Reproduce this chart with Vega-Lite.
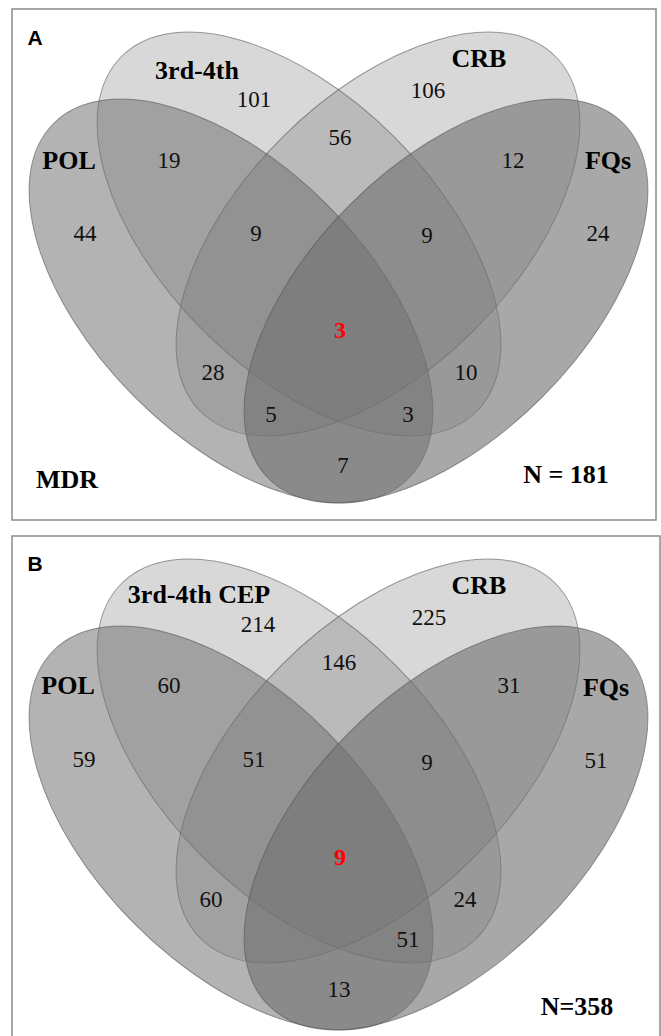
{
  "$schema": "https://vega.github.io/schema/vega-lite/v6.json",
  "padding": {"left": 11, "top": 8, "right": 0, "bottom": 0},
  "spacing": 14,
  "background": "white",
  "config": {"view": {"stroke": "#8a8a8a", "strokeWidth": 1.5}},
  "datasets": {
    "ellipses": [
      {"panel": "A", "set": "3rd-4th", "cx": 287, "cy": 225},
      {"panel": "A", "set": "CRB", "cx": 366, "cy": 225},
      {"panel": "A", "set": "POL", "cx": 219, "cy": 292},
      {"panel": "A", "set": "FQs", "cx": 434, "cy": 292},
      {"panel": "B", "set": "3rd-4th CEP", "cx": 287, "cy": 225},
      {"panel": "B", "set": "CRB", "cx": 366, "cy": 225},
      {"panel": "B", "set": "POL", "cx": 219, "cy": 292},
      {"panel": "B", "set": "FQs", "cx": 434, "cy": 292}
    ],
    "labels": [
      {"panel": "A", "role": "letter", "x": 23, "y": 30, "text": "A"},
      {"panel": "A", "role": "set", "x": 185, "y": 62, "text": "3rd-4th"},
      {"panel": "A", "role": "set", "x": 467, "y": 50, "text": "CRB"},
      {"panel": "A", "role": "set", "x": 57, "y": 152, "text": "POL"},
      {"panel": "A", "role": "set", "x": 596, "y": 152, "text": "FQs"},
      {"panel": "A", "role": "set", "x": 55, "y": 471, "text": "MDR"},
      {"panel": "A", "role": "set", "x": 554, "y": 466, "text": "N = 181"},
      {"panel": "A", "role": "count", "x": 242, "y": 91, "text": "101"},
      {"panel": "A", "role": "count", "x": 416, "y": 82, "text": "106"},
      {"panel": "A", "role": "count", "x": 328, "y": 129, "text": "56"},
      {"panel": "A", "role": "count", "x": 157, "y": 152, "text": "19"},
      {"panel": "A", "role": "count", "x": 501, "y": 152, "text": "12"},
      {"panel": "A", "role": "count", "x": 73, "y": 225, "text": "44"},
      {"panel": "A", "role": "count", "x": 244, "y": 225, "text": "9"},
      {"panel": "A", "role": "count", "x": 415, "y": 227, "text": "9"},
      {"panel": "A", "role": "count", "x": 586, "y": 225, "text": "24"},
      {"panel": "A", "role": "core", "x": 328, "y": 322, "text": "3"},
      {"panel": "A", "role": "count", "x": 201, "y": 364, "text": "28"},
      {"panel": "A", "role": "count", "x": 454, "y": 364, "text": "10"},
      {"panel": "A", "role": "count", "x": 259, "y": 406, "text": "5"},
      {"panel": "A", "role": "count", "x": 396, "y": 406, "text": "3"},
      {"panel": "A", "role": "count", "x": 331, "y": 457, "text": "7"},
      {"panel": "B", "role": "letter", "x": 23, "y": 29, "text": "B"},
      {"panel": "B", "role": "set", "x": 187, "y": 59, "text": "3rd-4th CEP"},
      {"panel": "B", "role": "set", "x": 467, "y": 50, "text": "CRB"},
      {"panel": "B", "role": "set", "x": 56, "y": 150, "text": "POL"},
      {"panel": "B", "role": "set", "x": 594, "y": 152, "text": "FQs"},
      {"panel": "B", "role": "set", "x": 565, "y": 471, "text": "N=358"},
      {"panel": "B", "role": "count", "x": 246, "y": 89, "text": "214"},
      {"panel": "B", "role": "count", "x": 417, "y": 82, "text": "225"},
      {"panel": "B", "role": "count", "x": 327, "y": 127, "text": "146"},
      {"panel": "B", "role": "count", "x": 157, "y": 150, "text": "60"},
      {"panel": "B", "role": "count", "x": 497, "y": 150, "text": "31"},
      {"panel": "B", "role": "count", "x": 72, "y": 224, "text": "59"},
      {"panel": "B", "role": "count", "x": 242, "y": 224, "text": "51"},
      {"panel": "B", "role": "count", "x": 415, "y": 227, "text": "9"},
      {"panel": "B", "role": "count", "x": 584, "y": 225, "text": "51"},
      {"panel": "B", "role": "core", "x": 328, "y": 322, "text": "9"},
      {"panel": "B", "role": "count", "x": 199, "y": 364, "text": "60"},
      {"panel": "B", "role": "count", "x": 453, "y": 364, "text": "24"},
      {"panel": "B", "role": "count", "x": 396, "y": 404, "text": "51"},
      {"panel": "B", "role": "count", "x": 327, "y": 454, "text": "13"}
    ]
  },
  "vconcat": [
    {
      "width": 644,
      "height": 511,
      "layer": [
        {
          "data": {"name": "ellipses"},
          "transform": [{"filter": "datum.panel === 'A' && datum.set === '3rd-4th'"}],
          "mark": {"type": "point", "shape": "M1,0C1,0.2993,0.5523,0.542,0,0.542C-0.5523,0.542,-1,0.2993,-1,0C-1,-0.2993,-0.5523,-0.542,0,-0.542C0.5523,-0.542,1,-0.2993,1,0Z", "size": 252004, "angle": 45, "filled": true, "opacity": 1, "fill": "#606060", "fillOpacity": 0.245, "stroke": "#505050", "strokeOpacity": 0.55, "strokeWidth": 1},
          "encoding": {
            "x": {"field": "cx", "type": "quantitative", "scale": {"domain": [0, 644], "nice": false, "zero": false}, "axis": null},
            "y": {"field": "cy", "type": "quantitative", "scale": {"domain": [0, 511], "nice": false, "zero": false, "reverse": true}, "axis": null}
          }
        },
        {
          "data": {"name": "ellipses"},
          "transform": [{"filter": "datum.panel === 'A' && datum.set === 'CRB'"}],
          "mark": {"type": "point", "shape": "M1,0C1,0.2993,0.5523,0.542,0,0.542C-0.5523,0.542,-1,0.2993,-1,0C-1,-0.2993,-0.5523,-0.542,0,-0.542C0.5523,-0.542,1,-0.2993,1,0Z", "size": 252004, "angle": 315, "filled": true, "opacity": 1, "fill": "#606060", "fillOpacity": 0.245, "stroke": "#505050", "strokeOpacity": 0.55, "strokeWidth": 1},
          "encoding": {
            "x": {"field": "cx", "type": "quantitative", "scale": {"domain": [0, 644], "nice": false, "zero": false}, "axis": null},
            "y": {"field": "cy", "type": "quantitative", "scale": {"domain": [0, 511], "nice": false, "zero": false, "reverse": true}, "axis": null}
          }
        },
        {
          "data": {"name": "ellipses"},
          "transform": [{"filter": "datum.panel === 'A' && datum.set === 'POL'"}],
          "mark": {"type": "point", "shape": "M1,0C1,0.2993,0.5523,0.542,0,0.542C-0.5523,0.542,-1,0.2993,-1,0C-1,-0.2993,-0.5523,-0.542,0,-0.542C0.5523,-0.542,1,-0.2993,1,0Z", "size": 252004, "angle": 45, "filled": true, "opacity": 1, "fill": "#707070", "fillOpacity": 0.53, "stroke": "#505050", "strokeOpacity": 0.55, "strokeWidth": 1},
          "encoding": {
            "x": {"field": "cx", "type": "quantitative", "scale": {"domain": [0, 644], "nice": false, "zero": false}, "axis": null},
            "y": {"field": "cy", "type": "quantitative", "scale": {"domain": [0, 511], "nice": false, "zero": false, "reverse": true}, "axis": null}
          }
        },
        {
          "data": {"name": "ellipses"},
          "transform": [{"filter": "datum.panel === 'A' && datum.set === 'FQs'"}],
          "mark": {"type": "point", "shape": "M1,0C1,0.2993,0.5523,0.542,0,0.542C-0.5523,0.542,-1,0.2993,-1,0C-1,-0.2993,-0.5523,-0.542,0,-0.542C0.5523,-0.542,1,-0.2993,1,0Z", "size": 252004, "angle": 315, "filled": true, "opacity": 1, "fill": "#707070", "fillOpacity": 0.61, "stroke": "#505050", "strokeOpacity": 0.55, "strokeWidth": 1},
          "encoding": {
            "x": {"field": "cx", "type": "quantitative", "scale": {"domain": [0, 644], "nice": false, "zero": false}, "axis": null},
            "y": {"field": "cy", "type": "quantitative", "scale": {"domain": [0, 511], "nice": false, "zero": false, "reverse": true}, "axis": null}
          }
        },
        {
          "data": {"name": "labels"},
          "transform": [{"filter": "datum.panel === 'A' && datum.role === 'count'"}],
          "mark": {"type": "text", "font": "Liberation Serif", "fontSize": 23, "color": "#111111", "align": "center", "baseline": "middle"},
          "encoding": {
            "x": {"field": "x", "type": "quantitative"},
            "y": {"field": "y", "type": "quantitative"},
            "text": {"field": "text"}
          }
        },
        {
          "data": {"name": "labels"},
          "transform": [{"filter": "datum.panel === 'A' && datum.role === 'set'"}],
          "mark": {"type": "text", "font": "Liberation Serif", "fontSize": 26, "fontWeight": "bold", "color": "#000000", "align": "center", "baseline": "middle"},
          "encoding": {
            "x": {"field": "x", "type": "quantitative"},
            "y": {"field": "y", "type": "quantitative"},
            "text": {"field": "text"}
          }
        },
        {
          "data": {"name": "labels"},
          "transform": [{"filter": "datum.panel === 'A' && datum.role === 'core'"}],
          "mark": {"type": "text", "font": "Liberation Serif", "fontSize": 24, "fontWeight": "bold", "color": "#ff0000", "align": "center", "baseline": "middle"},
          "encoding": {
            "x": {"field": "x", "type": "quantitative"},
            "y": {"field": "y", "type": "quantitative"},
            "text": {"field": "text"}
          }
        },
        {
          "data": {"name": "labels"},
          "transform": [{"filter": "datum.panel === 'A' && datum.role === 'letter'"}],
          "mark": {"type": "text", "font": "Liberation Sans", "fontSize": 21, "fontWeight": "bold", "color": "#000000", "align": "center", "baseline": "middle"},
          "encoding": {
            "x": {"field": "x", "type": "quantitative"},
            "y": {"field": "y", "type": "quantitative"},
            "text": {"field": "text"}
          }
        }
      ]
    },
    {
      "width": 648,
      "height": 502,
      "layer": [
        {
          "data": {"name": "ellipses"},
          "transform": [{"filter": "datum.panel === 'B' && datum.set === '3rd-4th CEP'"}],
          "mark": {"type": "point", "shape": "M1,0C1,0.2993,0.5523,0.542,0,0.542C-0.5523,0.542,-1,0.2993,-1,0C-1,-0.2993,-0.5523,-0.542,0,-0.542C0.5523,-0.542,1,-0.2993,1,0Z", "size": 252004, "angle": 45, "filled": true, "opacity": 1, "fill": "#606060", "fillOpacity": 0.245, "stroke": "#505050", "strokeOpacity": 0.55, "strokeWidth": 1},
          "encoding": {
            "x": {"field": "cx", "type": "quantitative", "scale": {"domain": [0, 648], "nice": false, "zero": false}, "axis": null},
            "y": {"field": "cy", "type": "quantitative", "scale": {"domain": [0, 502], "nice": false, "zero": false, "reverse": true}, "axis": null}
          }
        },
        {
          "data": {"name": "ellipses"},
          "transform": [{"filter": "datum.panel === 'B' && datum.set === 'CRB'"}],
          "mark": {"type": "point", "shape": "M1,0C1,0.2993,0.5523,0.542,0,0.542C-0.5523,0.542,-1,0.2993,-1,0C-1,-0.2993,-0.5523,-0.542,0,-0.542C0.5523,-0.542,1,-0.2993,1,0Z", "size": 252004, "angle": 315, "filled": true, "opacity": 1, "fill": "#606060", "fillOpacity": 0.245, "stroke": "#505050", "strokeOpacity": 0.55, "strokeWidth": 1},
          "encoding": {
            "x": {"field": "cx", "type": "quantitative", "scale": {"domain": [0, 648], "nice": false, "zero": false}, "axis": null},
            "y": {"field": "cy", "type": "quantitative", "scale": {"domain": [0, 502], "nice": false, "zero": false, "reverse": true}, "axis": null}
          }
        },
        {
          "data": {"name": "ellipses"},
          "transform": [{"filter": "datum.panel === 'B' && datum.set === 'POL'"}],
          "mark": {"type": "point", "shape": "M1,0C1,0.2993,0.5523,0.542,0,0.542C-0.5523,0.542,-1,0.2993,-1,0C-1,-0.2993,-0.5523,-0.542,0,-0.542C0.5523,-0.542,1,-0.2993,1,0Z", "size": 252004, "angle": 45, "filled": true, "opacity": 1, "fill": "#707070", "fillOpacity": 0.53, "stroke": "#505050", "strokeOpacity": 0.55, "strokeWidth": 1},
          "encoding": {
            "x": {"field": "cx", "type": "quantitative", "scale": {"domain": [0, 648], "nice": false, "zero": false}, "axis": null},
            "y": {"field": "cy", "type": "quantitative", "scale": {"domain": [0, 502], "nice": false, "zero": false, "reverse": true}, "axis": null}
          }
        },
        {
          "data": {"name": "ellipses"},
          "transform": [{"filter": "datum.panel === 'B' && datum.set === 'FQs'"}],
          "mark": {"type": "point", "shape": "M1,0C1,0.2993,0.5523,0.542,0,0.542C-0.5523,0.542,-1,0.2993,-1,0C-1,-0.2993,-0.5523,-0.542,0,-0.542C0.5523,-0.542,1,-0.2993,1,0Z", "size": 252004, "angle": 315, "filled": true, "opacity": 1, "fill": "#707070", "fillOpacity": 0.61, "stroke": "#505050", "strokeOpacity": 0.55, "strokeWidth": 1},
          "encoding": {
            "x": {"field": "cx", "type": "quantitative", "scale": {"domain": [0, 648], "nice": false, "zero": false}, "axis": null},
            "y": {"field": "cy", "type": "quantitative", "scale": {"domain": [0, 502], "nice": false, "zero": false, "reverse": true}, "axis": null}
          }
        },
        {
          "data": {"name": "labels"},
          "transform": [{"filter": "datum.panel === 'B' && datum.role === 'count'"}],
          "mark": {"type": "text", "font": "Liberation Serif", "fontSize": 23, "color": "#111111", "align": "center", "baseline": "middle"},
          "encoding": {
            "x": {"field": "x", "type": "quantitative"},
            "y": {"field": "y", "type": "quantitative"},
            "text": {"field": "text"}
          }
        },
        {
          "data": {"name": "labels"},
          "transform": [{"filter": "datum.panel === 'B' && datum.role === 'set'"}],
          "mark": {"type": "text", "font": "Liberation Serif", "fontSize": 26, "fontWeight": "bold", "color": "#000000", "align": "center", "baseline": "middle"},
          "encoding": {
            "x": {"field": "x", "type": "quantitative"},
            "y": {"field": "y", "type": "quantitative"},
            "text": {"field": "text"}
          }
        },
        {
          "data": {"name": "labels"},
          "transform": [{"filter": "datum.panel === 'B' && datum.role === 'core'"}],
          "mark": {"type": "text", "font": "Liberation Serif", "fontSize": 24, "fontWeight": "bold", "color": "#ff0000", "align": "center", "baseline": "middle"},
          "encoding": {
            "x": {"field": "x", "type": "quantitative"},
            "y": {"field": "y", "type": "quantitative"},
            "text": {"field": "text"}
          }
        },
        {
          "data": {"name": "labels"},
          "transform": [{"filter": "datum.panel === 'B' && datum.role === 'letter'"}],
          "mark": {"type": "text", "font": "Liberation Sans", "fontSize": 21, "fontWeight": "bold", "color": "#000000", "align": "center", "baseline": "middle"},
          "encoding": {
            "x": {"field": "x", "type": "quantitative"},
            "y": {"field": "y", "type": "quantitative"},
            "text": {"field": "text"}
          }
        }
      ]
    }
  ],
  "resolve": {"scale": {"x": "independent", "y": "independent"}}
}
